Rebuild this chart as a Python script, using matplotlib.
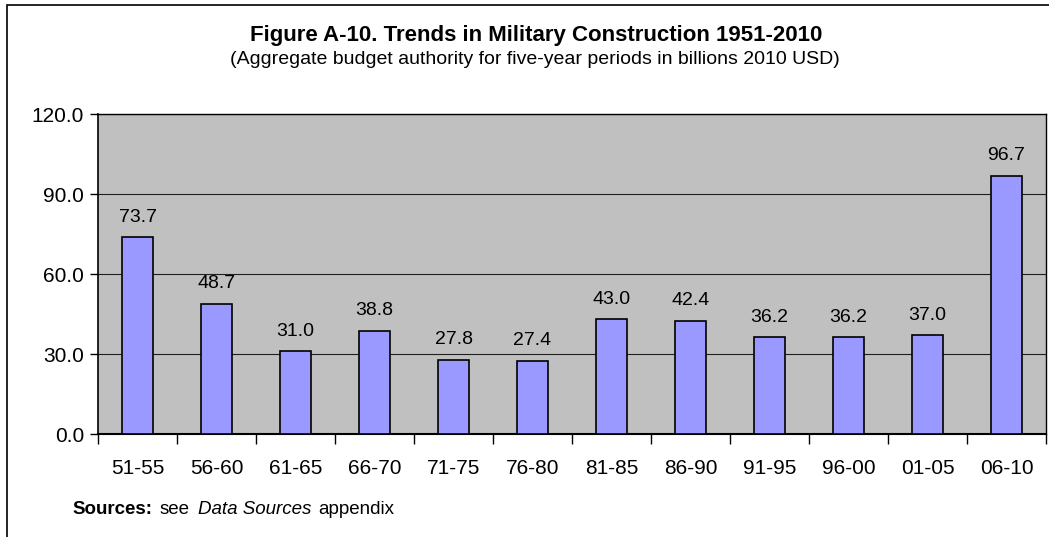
import matplotlib.pyplot as plt
from matplotlib.patches import Rectangle

# Five-year periods and aggregate budget authority (billions 2010 USD)
periods = ['51-55', '56-60', '61-65', '66-70', '71-75', '76-80',
           '81-85', '86-90', '91-95', '96-00', '01-05', '06-10']
values = [73.7, 48.7, 31.0, 38.8, 27.8, 27.4, 43.0, 42.4, 36.2, 36.2, 37.0, 96.7]
yticks = [0, 30, 60, 90, 120]

plt.rcParams['font.family'] = ['Liberation Sans', 'DejaVu Sans']

W, H = 1049, 537
fig = plt.figure(figsize=(W / 100, H / 100), dpi=100)
ax = fig.add_axes([98 / W, 1 - 434 / H, 948 / W, 320 / H])

x = list(range(len(periods)))
ax.bar(x, values, width=0.405, color='#9999FF', edgecolor='black', linewidth=1.2, zorder=3)

for xi, v in zip(x, values):
    ax.annotate(f'{v:.1f}', (xi, v), xytext=(0, 8.5), textcoords='offset points',
                ha='center', va='bottom', fontsize=14)

ax.set_facecolor('#C0C0C0')
ax.set_xlim(-0.5, len(periods) - 0.5)
ax.set_ylim(0, 120)
ax.set_yticks(yticks)
ax.set_yticklabels([f'{t:.1f}' for t in yticks], fontsize=15)
ax.yaxis.grid(True, color='#202020', linewidth=0.8, zorder=1)
ax.set_axisbelow(True)

# category labels centred, tick marks between categories
ax.set_xticks(x)
ax.set_xticklabels(periods, fontsize=15)
ax.tick_params(axis='x', length=0, pad=18)
ax.set_xticks([i - 0.5 for i in range(len(periods) + 1)], minor=True)
ax.tick_params(axis='x', which='minor', length=7, width=1, direction='out')
ax.tick_params(axis='y', length=6, width=1, direction='out', pad=4)

for s in ax.spines.values():
    s.set_color('black')
    s.set_linewidth(1)
ax.spines['bottom'].set_linewidth(1.5)
ax.spines['left'].set_linewidth(1.2)

fig.text(536 / W, 1 - 36 / H, 'Figure A-10. Trends in Military Construction 1951-2010',
         ha='center', va='center', fontsize=16, fontweight='bold')
fig.text(535 / W, 1 - 60 / H,
         '(Aggregate budget authority for five-year periods in billions 2010 USD)',
         ha='center', va='center', fontsize=14)

ys = 1 - 510 / H
fig.text(72 / W, ys, 'Sources:', ha='left', va='center', fontsize=13.5, fontweight='bold')
fig.text(160 / W, ys, 'see', ha='left', va='center', fontsize=13.5)
fig.text(198 / W, ys, 'Data Sources', ha='left', va='center', fontsize=13.5, style='italic')
fig.text(318 / W, ys, 'appendix', ha='left', va='center', fontsize=13.5)

# outer chart border (cut off at right and bottom)
fig.patches.append(Rectangle((7 / W, -0.1), 1.2, 1 - 5 / H + 0.1,
                             transform=fig.transFigure, fill=False,
                             edgecolor='black', linewidth=1.2))

fig.savefig('out.png', dpi=100)
